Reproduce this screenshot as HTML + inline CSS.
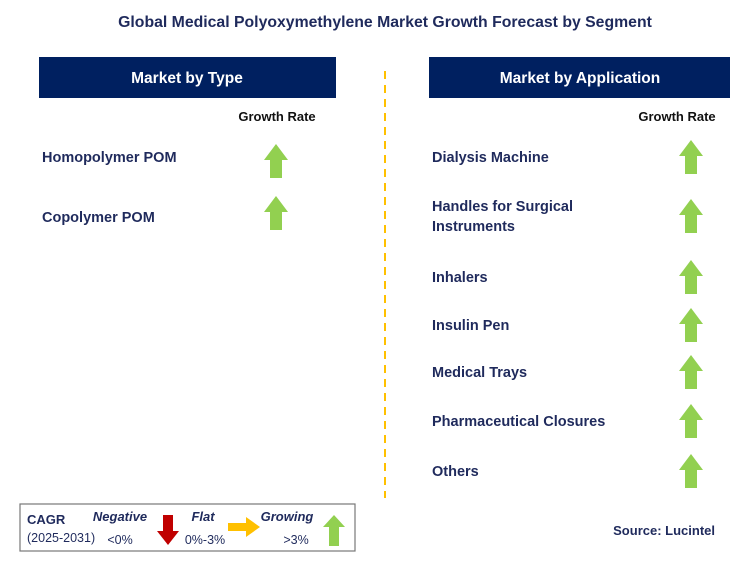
<!DOCTYPE html>
<html><head><meta charset="utf-8"><style>
body{margin:0;background:#fff;}
svg text{font-family:"Liberation Sans",Arial,sans-serif;}
</style></head><body>
<svg width="741" height="568" viewBox="0 0 741 568" xmlns="http://www.w3.org/2000/svg">
<text x="385" y="27" text-anchor="middle" font-size="15.8" font-weight="bold" fill="#1f2a5c">Global Medical Polyoxymethylene Market Growth Forecast by Segment</text>
<rect x="39" y="57" width="297" height="41" fill="#002060"/>
<text x="187" y="83" text-anchor="middle" font-size="15.5" font-weight="bold" fill="#fff">Market by Type</text>
<rect x="429" y="57" width="301" height="41" fill="#002060"/>
<text x="580" y="83" text-anchor="middle" font-size="15.5" font-weight="bold" fill="#fff">Market by Application</text>
<line x1="385" y1="71" x2="385" y2="498" stroke="#ffc000" stroke-width="2" stroke-dasharray="8,6"/>
<text x="277" y="121" text-anchor="middle" font-size="13" font-weight="bold" fill="#111">Growth Rate</text>
<text x="677" y="121" text-anchor="middle" font-size="13" font-weight="bold" fill="#111">Growth Rate</text>
<g id="rows"></g>
<rect x="20" y="504" width="335" height="47" fill="#fff" stroke="#777" stroke-width="1.2"/>
<text x="27" y="524" font-size="13" font-weight="bold" fill="#1f2a5c">CAGR</text>
<text x="27" y="542" font-size="12.5" fill="#1f2a5c">(2025-2031)</text>
<text x="120" y="521" text-anchor="middle" font-size="13" font-weight="bold" font-style="italic" fill="#1f2a5c">Negative</text>
<text x="120" y="544" text-anchor="middle" font-size="12.5" fill="#1f2a5c">&lt;0%</text>
<path d="M163,515 h10 v16 h6 l-11,14 l-11,-14 h6 z" fill="#c00000"/>
<text x="203" y="521" text-anchor="middle" font-size="13" font-weight="bold" font-style="italic" fill="#1f2a5c">Flat</text>
<text x="205" y="544" text-anchor="middle" font-size="12.5" fill="#1f2a5c">0%-3%</text>
<path d="M228,523 h18 v-6 l14,10 l-14,10 v-6 h-18 z" fill="#ffc000"/>
<text x="287" y="521" text-anchor="middle" font-size="13" font-weight="bold" font-style="italic" fill="#1f2a5c">Growing</text>
<text x="296" y="544" text-anchor="middle" font-size="12.5" fill="#1f2a5c">&gt;3%</text>
<path d="M334,515 l11,12 h-6 v19 h-10 v-19 h-6 z" fill="#92d050"/>
<text x="715" y="535" text-anchor="end" font-size="13" font-weight="bold" fill="#1f2a5c">Source: Lucintel</text>
</svg>
<script>
const typeLabels=[["Homopolymer POM"],["Copolymer POM"]];
const typeArrowTops=[144,196];
const appLabels=[["Dialysis Machine"],["Handles for Surgical","Instruments"],["Inhalers"],["Insulin Pen"],["Medical Trays"],["Pharmaceutical Closures"],["Others"]];
const appArrowTops=[140,199,260,308,355,404,454];
const NS="http://www.w3.org/2000/svg";
const g=document.getElementById('rows');
function addRow(lines,top,tx,ax,prefix,shift){
  const cy=top+17+shift;
  const n=lines.length;
  lines.forEach((ln,k)=>{
    const t=document.createElementNS(NS,'text');
    t.setAttribute('x',tx);
    t.setAttribute('y',cy+5+(k-(n-1)/2)*20);
    t.setAttribute('font-size','14.5');
    t.setAttribute('font-weight','bold');
    t.setAttribute('fill','#1f2a5c');
    t.textContent=ln;
    
    
    g.appendChild(t);
  });
  const p=document.createElementNS(NS,'path');
  p.setAttribute('d',`M${ax},${top} l12,16 h-6 v18 h-12 v-18 h-6 z`);
  p.setAttribute('fill','#92d050');
  
  
  g.appendChild(p);
}
typeLabels.forEach((l,i)=>addRow(l,typeArrowTops[i],42,276,'type-row',i===0?-4:4));
appLabels.forEach((l,i)=>addRow(l,appArrowTops[i],432,691,'application-row',0));
</script>
</body></html>
